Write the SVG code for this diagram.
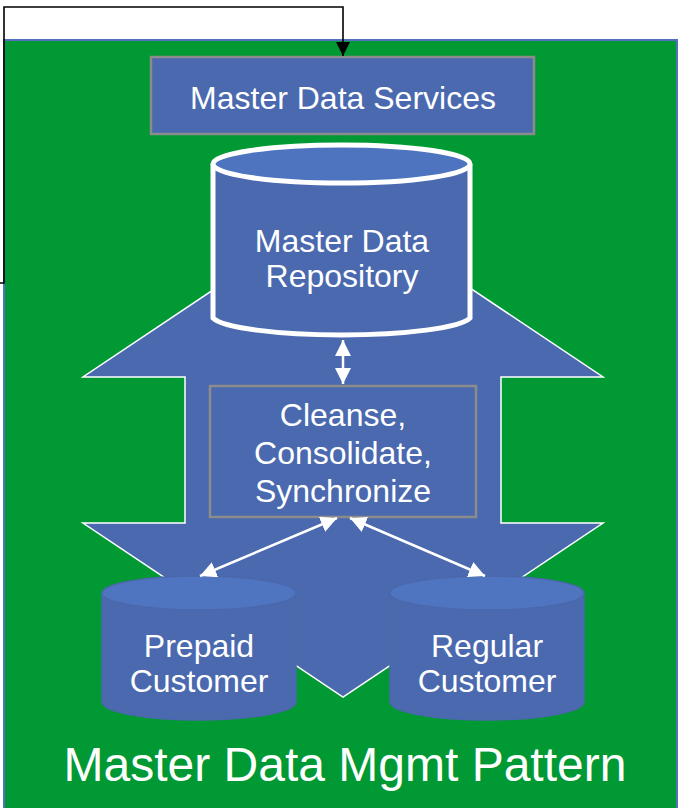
<svg xmlns="http://www.w3.org/2000/svg" width="683" height="808" viewBox="0 0 683 808">
  <style>
    .lbl { font-family: "Liberation Sans", Arial, sans-serif; font-size: 32px; fill: #ffffff; text-anchor: middle; }
    .title { font-family: "Liberation Sans", Arial, sans-serif; font-size: 48px; fill: #ffffff; text-anchor: middle; }
    .box { fill: #4a69af; stroke: #8c8c8c; stroke-width: 2.5; }
    .flow { stroke: #ffffff; stroke-width: 2.5; fill: none; }
  </style>
  <defs>
    <marker id="wh" viewBox="0 0 10 10" refX="10" refY="5" markerWidth="6.5" markerHeight="6.5" markerUnits="strokeWidth" orient="auto-start-reverse">
      <path d="M0,0 L10,5 L0,10 z" fill="#ffffff"/>
    </marker>
    <marker id="bk" viewBox="0 0 10 10" refX="10" refY="5" markerWidth="9" markerHeight="9" markerUnits="strokeWidth" orient="auto">
      <path d="M0,0 L10,5 L0,10 z" fill="#000000"/>
    </marker>
  </defs>

  <rect width="683" height="808" fill="#ffffff"/>

  <!-- pattern panel -->
  <g id="panel">
    <rect x="4" y="40" width="673" height="772" fill="#009933" stroke="#5470bf" stroke-width="2"/>
  </g>

  <!-- up/down block arrow behind the stores -->
  <g id="flow-arrow">
    <path d="M343,203 L603,377 L501,377 L501,523 L603,523 L343,697 L83,523 L185,523 L185,377 L83,377 Z"
          fill="#4a69af" stroke="#ffffff" stroke-width="1.5" stroke-linejoin="miter"/>
  </g>

  <g id="services">
    <rect class="box" x="151" y="57" width="383" height="77"/>
    <text class="lbl" x="343" y="109">Master Data Services</text>
  </g>

  <g id="repository">
    <path d="M213,164 L213,318 A130,20 0 0 0 470,318 L470,164" fill="#4a69af" stroke="#ffffff" stroke-width="5"/>
    <ellipse cx="341.5" cy="164" rx="128.5" ry="19" fill="#4e74bf" stroke="#ffffff" stroke-width="5"/>
    <text class="lbl" x="342" y="252">Master Data</text>
    <text class="lbl" x="342" y="287">Repository</text>
  </g>

  <g id="cleanse">
    <rect class="box" x="210" y="386" width="266" height="131"/>
    <text class="lbl" x="343" y="426">Cleanse,</text>
    <text class="lbl" x="343" y="464">Consolidate,</text>
    <text class="lbl" x="343" y="502">Synchronize</text>
  </g>

  <g id="prepaid">
    <path d="M102,593 L102,702 A97,18 0 0 0 296,702 L296,593" fill="#4a69af" stroke="#4b68ac" stroke-width="1.5"/>
    <ellipse cx="199" cy="593" rx="97" ry="17" fill="#4f74c0" stroke="#4b68ac" stroke-width="1.5"/>
    <text class="lbl" x="199" y="657">Prepaid</text>
    <text class="lbl" x="199" y="692">Customer</text>
  </g>

  <g id="regular">
    <path d="M390,593 L390,702 A97,18 0 0 0 584,702 L584,593" fill="#4a69af" stroke="#4b68ac" stroke-width="1.5"/>
    <ellipse cx="487" cy="593" rx="97" ry="17" fill="#4f74c0" stroke="#4b68ac" stroke-width="1.5"/>
    <text class="lbl" x="487" y="657">Regular</text>
    <text class="lbl" x="487" y="692">Customer</text>
  </g>

  <g id="connectors">
    <line class="flow" x1="343" y1="340" x2="343" y2="384" marker-start="url(#wh)" marker-end="url(#wh)"/>
    <line class="flow" x1="200" y1="576" x2="337" y2="518" marker-start="url(#wh)" marker-end="url(#wh)"/>
    <line class="flow" x1="350" y1="518" x2="485" y2="576" marker-start="url(#wh)" marker-end="url(#wh)"/>
    <polyline points="0,283 4,283 4,7 343,7 343,56" fill="none" stroke="#000000" stroke-width="1.6" marker-end="url(#bk)"/>
  </g>

  <g id="caption">
    <text class="title" x="345" y="781">Master Data Mgmt Pattern</text>
  </g>
</svg>
